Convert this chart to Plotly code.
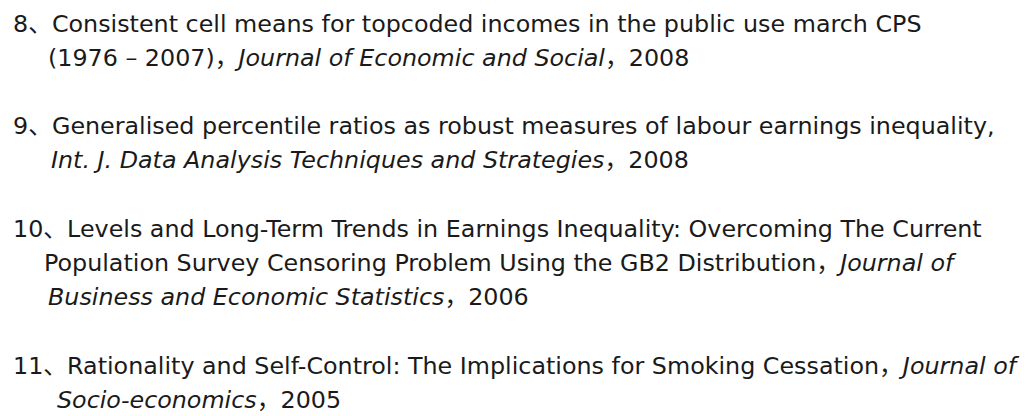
import plotly.graph_objects as go

# Text content of each reference entry (roman part, italic journal part, year)
entry_numbers = ["8", "9", "10", "11"]
entry_lines = [
    ["8、Consistent cell means for topcoded incomes in the public use march CPS",
     "(1976 – 2007)，<i>Journal of Economic and Social</i>，2008"],
    ["9、Generalised percentile ratios as robust measures of labour earnings inequality,",
     "<i>Int. J. Data Analysis Techniques and Strategies</i>，2008"],
    ["10、Levels and Long-Term Trends in Earnings Inequality: Overcoming The Current",
     "Population Survey Censoring Problem Using the GB2 Distribution，<i>Journal of</i>",
     "<i>Business and Economic Statistics</i>，2006"],
    ["11、Rationality and Self-Control: The Implications for Smoking Cessation，<i>Journal of</i>",
     "<i>Socio-economics</i>，2005"],
]

# layout (pixel positions)
W, H = 1032, 416
top = 23.5
pitch = 34.2
x_cont = [[11, 46], [11, 49], [11, 42, 46], [11, 55]]

fig = go.Figure()
annotations = []
slot = 0
for i, lines in enumerate(entry_lines):
    for j, txt in enumerate(lines):
        annotations.append(dict(
            x=x_cont[i][j], y=top + slot * pitch, xref="x", yref="y",
            text=txt, showarrow=False, xanchor="left", yanchor="middle",
            font=dict(family="DejaVu Sans, Noto Sans CJK JP, sans-serif", size=23.8, color="#1a1a1a"),
        ))
        slot += 1
    slot += 1

fig.update_layout(
    width=W, height=H,
    margin=dict(l=0, r=0, t=0, b=0),
    paper_bgcolor="white", plot_bgcolor="white",
    xaxis=dict(range=[0, W], visible=False, fixedrange=True),
    yaxis=dict(range=[H, 0], visible=False, fixedrange=True),
    annotations=annotations,
    showlegend=False,
)
fig.write_html("out.html", config={"displayModeBar": False},
               post_script="document.body.style.margin='0px';")
